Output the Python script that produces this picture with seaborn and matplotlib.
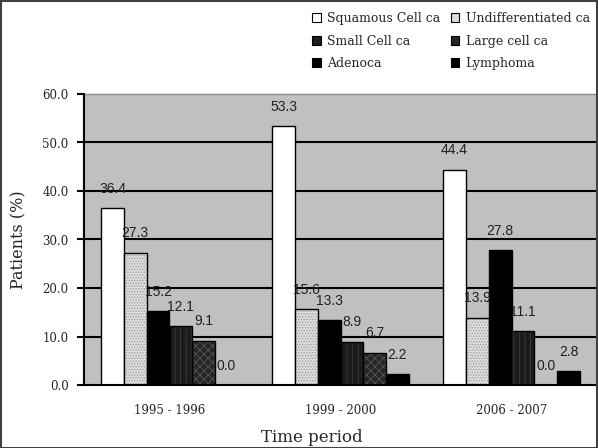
import numpy as np
import pandas as pd
import seaborn as sns
import matplotlib
matplotlib.use("Agg")
import matplotlib.pyplot as plt
from matplotlib.patches import Rectangle, Patch

# ---- data ----
periods = ["1995 - 1996", "1999 - 2000", "2006 - 2007"]
series = ["Squamous Cell ca", "Undifferentiated ca", "Adenoca",
          "Small Cell ca", "Large cell ca", "Lymphoma"]
squamous = [36.4, 53.3, 44.4]
undifferentiated = [27.3, 15.6, 13.9]
adenoca = [15.2, 13.3, 27.8]
small_cell = [12.1, 8.9, 11.1]
large_cell = [9.1, 6.7, 0.0]
lymphoma = [0.0, 2.2, 2.8]
yticks = [0, 10, 20, 30, 40, 50, 60]

values = [squamous, undifferentiated, adenoca, small_cell, large_cell, lymphoma]
rows = []
for s, vals in zip(series, values):
    for p, v in zip(periods, vals):
        rows.append({"period": p, "series": s, "value": v})
df = pd.DataFrame(rows)

# styles: face, hatch, hatch colour
styles = {
    "Squamous Cell ca": ("#ffffff", "", "#ffffff"),
    "Undifferentiated ca": ("#dcdcdc", "......", "#9a9a9a"),
    "Adenoca": ("#000000", "", "#000000"),
    "Small Cell ca": ("#1c1c1c", "|||", "#3c3c3c"),
    "Large cell ca": ("#262626", "xxxx", "#555555"),
    "Lymphoma": ("#000000", "", "#000000"),
}

sns.set_style("white")
plt.rcParams["font.family"] = ["DejaVu Serif"]
plt.rcParams["hatch.linewidth"] = 0.6

W, H = 598, 448
fig = plt.figure(figsize=(W / 100, H / 100), dpi=100)
L, R, T, B = 84, 597, 94, 385
ax = fig.add_axes([L / W, 1 - B / H, (R - L) / W, (B - T) / H])
ax.set_facecolor("#c0c0c0")

sns.barplot(data=df, x="period", y="value", hue="series", order=periods,
            hue_order=series, width=0.8, gap=0, ax=ax, legend=False,
            palette=["#ffffff"] * len(series), edgecolor="black", linewidth=1.0,
            saturation=1)

for cont, s in zip(ax.containers, series):
    face, hatch, hcol = styles[s]
    for bar in cont:
        bar.set_facecolor(face)
        bar.set_zorder(3)
        if hatch:
            bar.set_hatch(hatch)
            bar.set_edgecolor(hcol)
            bar.set_linewidth(0)
            x, y = bar.get_xy()
            ax.add_patch(Rectangle((x, y), bar.get_width(), bar.get_height(),
                                   fill=False, edgecolor="black", linewidth=1.0,
                                   zorder=4))
    ax.bar_label(cont, fmt="%.1f", padding=9, fontsize=10, color="#202020",
                 family=["Liberation Sans"], zorder=5)

ax.set_ylim(0, 60)
ax.set_xlim(-0.5, 2.5)
ax.set_yticks(yticks)
ax.set_yticklabels([f"{v:.1f}" for v in yticks], fontsize=8.5)
for v in yticks[1:-1]:
    ax.axhline(v, color="black", linewidth=1.5, zorder=1)
ax.set_xticks([0, 1, 2])
ax.set_xticklabels(periods, fontsize=8.5)
ax.set_xticks([-0.5, 0.5, 1.5, 2.5], minor=True)
ax.tick_params(axis="x", which="major", length=0, pad=14)
ax.tick_params(axis="x", which="minor", length=5, width=1.5, color="black", direction="out")
ax.tick_params(axis="y", length=5, width=1.5, color="black", direction="out", left=True, pad=6)

for side in ["left", "bottom"]:
    ax.spines[side].set_color("black")
    ax.spines[side].set_linewidth(1.5)
    ax.spines[side].set_zorder(6)
ax.spines["top"].set_color("#8a8a8a")
ax.spines["top"].set_linewidth(1.0)
ax.spines["right"].set_visible(False)

ax.set_xlabel("")
ax.set_ylabel("Patients (%)", fontsize=11.5, labelpad=11)
fig.text(312 / W, 1 - 437 / H, "Time period", ha="center", va="center", fontsize=12)

# legend (column-major order for 2 columns)
leg_order = ["Squamous Cell ca", "Small Cell ca", "Adenoca",
             "Undifferentiated ca", "Large cell ca", "Lymphoma"]
handles = []
for s in leg_order:
    face, hatch, hcol = styles[s]
    handles.append(Patch(facecolor=face, edgecolor="black", linewidth=0.8, label=s))
fig.legend(handles=handles, ncol=2, loc="upper right",
           bbox_to_anchor=(596 / W, 1 - 6 / H), frameon=False, fontsize=9,
           handlelength=0.7, handleheight=0.7, handletextpad=0.5,
           columnspacing=0.8, labelspacing=0.75, borderpad=0.0)

# figure border
fig.add_artist(Rectangle((0.5 / W, 0.5 / H), 1 - 1.5 / W, 1 - 1.5 / H,
                         transform=fig.transFigure, fill=False,
                         edgecolor="#404040", linewidth=1.5))

fig.savefig("out.png", dpi=100)
